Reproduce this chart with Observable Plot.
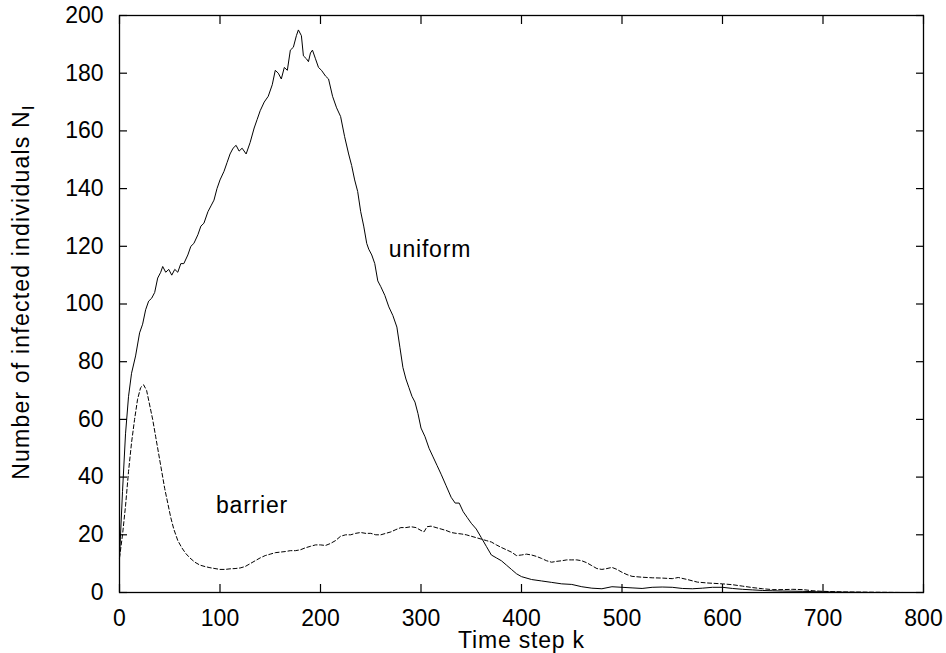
<!DOCTYPE html>
<html>
<head>
<meta charset="utf-8">
<script src="https://cdn.jsdelivr.net/npm/d3@7"></script>
<script src="https://cdn.jsdelivr.net/npm/@observablehq/plot@0.6"></script>
<style>
  html, body { margin: 0; padding: 0; background: #fff; }
  #chart { width: 946px; height: 653px; }
  svg { font-family: "Liberation Sans", Arial, Helvetica, sans-serif; }
  .wordlab text { letter-spacing: 0.8px; }
  .ylab text { letter-spacing: 1.2px; }
</style>
</head>
<body>
<div id="chart"></div>
<script>
const xTicks = [0, 100, 200, 300, 400, 500, 600, 700, 800];
const yTicks = [0, 20, 40, 60, 80, 100, 120, 140, 160, 180, 200];

const uniformK = [0,3,6,9,12,16,20,23,26,29,32,35,38,41,43,46,49,52,55,58,61,64,68,71,74,78,81,84,88,91,94,97,100,104,107,110,113,116,119,122,126,130,134,137,140,144,148,152,155,158,161,164,167,170,173,176,178,181,183,186,188,190,192,195,198,201,205,208,212,216,220,224,228,231,234,237,240,243,246,248,251,254,257,260,264,268,272,276,279,282,285,288,291,294,297,300,304,308,312,316,320,325,330,334,338,342,346,350,355,360,365,370,375,380,385,390,395,400,410,420,430,440,450,460,470,480,490,500,510,520,530,540,550,560,570,580,590,600,610,620,630,640,650,660,680,700,720,750,800];
const uniformN = [12,35,55,68,76,82,90,93,98,101,102,104,109,111,113,111,112,110,112,111,114,114,117,120,121,124,127,128,132,134,136,140,143,146,149,152,154,155,153,154,152,156,161,164,167,170,172,176,181,180,178,182,181,188,189,193,195,193,186,185,184,187,188,185,182,181,179,178,172,168,165,158,152,148,143,139,132,127,121,119,117,114,108,106,103,99,96,92,85,78,74,71,68,66,62,57,54,50,47,44,41,37,33,31,31,28,26,24,22,19,16,13,12,11,9.5,8,6.5,5.5,4.5,4,3.5,3,2.8,2,1.5,1.3,2,1.8,1.6,1.4,1.8,1.9,1.8,1.4,1.3,1.5,1.8,1.8,1.4,1.1,0.9,0.7,0.6,0.5,0.4,0.2,0.1,0,0];

const barrierK = [0,3,6,9,12,15,18,21,24,27,30,33,36,39,42,45,48,51,54,58,62,66,70,75,80,85,90,95,100,105,110,115,120,125,130,135,140,145,150,155,160,165,170,175,180,185,190,195,200,205,210,215,220,225,230,235,240,245,250,255,260,265,270,275,280,285,290,295,300,303,306,310,315,320,325,330,335,340,345,350,355,360,365,370,375,380,385,390,395,400,405,410,415,420,425,430,435,440,445,450,455,460,465,470,475,480,485,490,495,500,505,510,520,530,540,550,556,565,575,585,600,610,620,630,640,650,660,670,680,690,700,720,750,780,800];
const barrierN = [12,20,30,42,52,60,67,71,72,70,65,60,54,48,42,36,31,26,22,18,15.5,13.5,12,10.5,9.5,9,8.6,8.3,8,8,8.2,8.3,8.5,9,10,11,12,12.8,13.3,13.8,14,14.2,14.5,14.5,14.8,15.5,16,16.5,16.5,16.3,17,18,19.5,20,20,20.5,20.8,20.5,20.5,20,20,20.5,21,21.8,22.5,22.5,22.8,22.5,21.5,21,22.8,23,22.5,22,21.5,20.8,20.5,20.3,20,19.5,19,18.5,18,17.5,16.5,15.6,14.8,14,12.8,13,13.3,13,12.5,11.8,11,10.5,10.8,11,11.3,11.3,11.3,11,10.3,9.3,8.3,8,8.3,8.7,8,7,6.2,5.6,5.3,5.1,5,4.8,5.2,4.5,3.6,3.3,3,2.7,2.2,1.7,1.3,1,1,1.1,1,0.6,0.4,0.2,0.1,0,0];

const labels = [
  {text: "uniform", k: 268, n: 119},
  {text: "barrier", k: 96, n: 30}
];

const uniform = uniformK.map((k, i) => ({k, n: uniformN[i]}));
const barrier = barrierK.map((k, i) => ({k, n: barrierN[i]}));

const FS = 23;

const plot = Plot.plot({
  width: 946,
  height: 653,
  marginLeft: 119,
  marginRight: 23,
  marginTop: 15,
  marginBottom: 61,
  style: {fontSize: FS + "px", fontFamily: '"Liberation Sans", Arial, Helvetica, sans-serif', color: "black", background: "white"},
  x: {domain: [0, 800]},
  y: {domain: [0, 200]},
  marks: [
    Plot.axisX({anchor: "bottom", ticks: xTicks, tickSize: -8, tickPadding: 25, label: null, strokeWidth: 1.2}),
    Plot.axisX({anchor: "top", ticks: xTicks, tickSize: -8, tickFormat: () => "", label: null, strokeWidth: 1.2}),
    Plot.axisY({anchor: "left", ticks: yTicks, tickSize: -8, tickPadding: 24, label: null, strokeWidth: 1.2}),
    Plot.axisY({anchor: "right", ticks: yTicks, tickSize: -8, tickFormat: () => "", label: null, strokeWidth: 1.2}),
    Plot.line(barrier, {x: "k", y: "n", stroke: "black", strokeWidth: 1, strokeDasharray: "4,2.5"}),
    Plot.line(uniform, {x: "k", y: "n", stroke: "black", strokeWidth: 1}),
    Plot.text(labels, {x: "k", y: "n", text: "text", textAnchor: "start", fontSize: FS, className: "wordlab"}),
    Plot.text(["Time step k"], {frameAnchor: "bottom", lineAnchor: "bottom", dy: 55, fontSize: FS, className: "wordlab"}),
    Plot.text(["Number of infected individuals N"], {frameAnchor: "left", textAnchor: "middle", lineAnchor: "middle", rotate: -90, dx: -98, dy: -12, fontSize: FS, className: "ylab"}),
    Plot.frame({stroke: "black", strokeWidth: 1.3})
  ]
});

document.getElementById("chart").appendChild(plot);

// add subscript I to the y-axis label
d3.select(plot).selectAll(".ylab text").each(function() {
  const t = d3.select(this);
  t.append("tspan").attr("dy", "0.3em").attr("font-size", "17px").text("I");
});
</script>
</body>
</html>
